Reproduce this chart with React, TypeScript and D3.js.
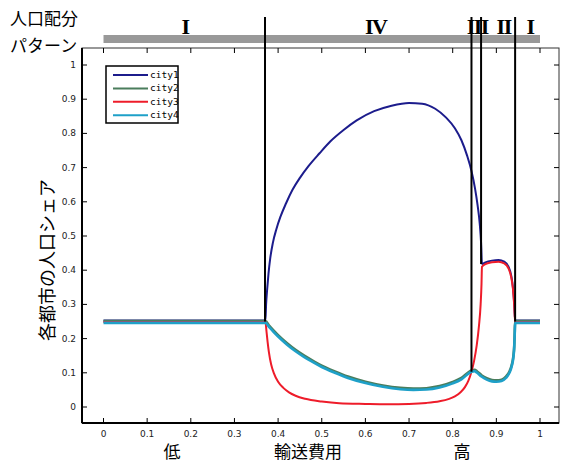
import React from 'react';
import * as d3 from 'd3';

// 各都市の人口シェア (x = 輸送費用)
const city1: [number, number][] = [
  [0, 0.253], [0.371, 0.253], [0.3725, 0.3], [0.375, 0.345], [0.378, 0.39], [0.382, 0.435],
  [0.388, 0.48], [0.396, 0.52], [0.405, 0.555], [0.418, 0.595], [0.433, 0.635],
  [0.45, 0.67], [0.47, 0.705], [0.495, 0.742], [0.52, 0.777], [0.55, 0.81],
  [0.58, 0.838], [0.62, 0.865], [0.66, 0.881], [0.7, 0.889], [0.73, 0.887],
  [0.76, 0.872], [0.785, 0.846], [0.805, 0.815], [0.82, 0.78], [0.833, 0.735],
  [0.843, 0.69], [0.851, 0.64], [0.857, 0.59], [0.862, 0.535], [0.865, 0.48],
  [0.867, 0.418], [0.875, 0.423], [0.89, 0.428], [0.905, 0.43], [0.918, 0.425],
  [0.928, 0.41], [0.934, 0.385], [0.938, 0.35], [0.941, 0.3], [0.943, 0.253], [1, 0.253],
];
const city2: [number, number][] = [
  [0, 0.251], [0.371, 0.251], [0.38, 0.237], [0.39, 0.223], [0.4, 0.21], [0.42, 0.187],
  [0.44, 0.167], [0.46, 0.15], [0.48, 0.135], [0.5, 0.121], [0.53, 0.104], [0.56, 0.089],
  [0.6, 0.074], [0.64, 0.063], [0.68, 0.056], [0.71, 0.054], [0.74, 0.055], [0.77, 0.061],
  [0.8, 0.073], [0.82, 0.085], [0.843, 0.107], [0.85, 0.109], [0.856, 0.104],
  [0.866, 0.093], [0.878, 0.084], [0.89, 0.079], [0.9, 0.078], [0.912, 0.08],
  [0.922, 0.089], [0.93, 0.104], [0.935, 0.122], [0.939, 0.149], [0.941, 0.179],
  [0.942, 0.214], [0.943, 0.251], [1, 0.251],
];
const city3: [number, number][] = [
  [0, 0.2485], [0.371, 0.2485], [0.3735, 0.22], [0.376, 0.19], [0.379, 0.16], [0.384, 0.125],
  [0.39, 0.1], [0.4, 0.074], [0.412, 0.056], [0.425, 0.043], [0.44, 0.033], [0.462, 0.024],
  [0.5, 0.016], [0.54, 0.011], [0.6, 0.009], [0.65, 0.008], [0.7, 0.009], [0.74, 0.012],
  [0.77, 0.017], [0.79, 0.023], [0.805, 0.031], [0.818, 0.043], [0.828, 0.058],
  [0.836, 0.077], [0.843, 0.103], [0.849, 0.135], [0.855, 0.18], [0.86, 0.235],
  [0.864, 0.3], [0.866, 0.36], [0.867, 0.41], [0.875, 0.418], [0.89, 0.423],
  [0.905, 0.425], [0.918, 0.42], [0.928, 0.405], [0.934, 0.38], [0.938, 0.345],
  [0.941, 0.295], [0.943, 0.2485], [1, 0.2485],
];
const city4: [number, number][] = [
  [0, 0.246], [0.371, 0.246], [0.38, 0.233], [0.39, 0.219], [0.4, 0.206], [0.42, 0.183],
  [0.44, 0.163], [0.46, 0.146], [0.48, 0.131], [0.5, 0.117], [0.53, 0.1], [0.56, 0.085],
  [0.6, 0.07], [0.64, 0.059], [0.68, 0.052], [0.71, 0.05], [0.74, 0.051], [0.77, 0.057],
  [0.8, 0.069], [0.82, 0.081], [0.843, 0.103], [0.85, 0.105], [0.856, 0.1],
  [0.866, 0.089], [0.878, 0.08], [0.89, 0.075], [0.9, 0.074], [0.912, 0.076],
  [0.922, 0.085], [0.93, 0.1], [0.935, 0.118], [0.939, 0.145], [0.941, 0.175],
  [0.942, 0.21], [0.943, 0.246], [1, 0.246],
];

const seriesNames = ['city1', 'city2', 'city3', 'city4'];
const seriesColors = ['#1c1c8c', '#4b7d5c', '#ee1c2a', '#1ea0c8'];
const seriesWidths = [2, 2.6, 2, 2.6];

// パターン境界
const boundaries = [0.37, 0.843, 0.865, 0.943];
const boundaryBottoms = [0.25, 0.103, 0.418, 0.25];
const patternLabels = ['I', 'IV', 'III', 'II', 'I'];
const patternLabelX = [0.187, 0.622, 0.853, 0.915, 0.977];

const xTicks = [0, 0.1, 0.2, 0.3, 0.4, 0.5, 0.6, 0.7, 0.8, 0.9, 1];
const yTicks = [0, 0.1, 0.2, 0.3, 0.4, 0.5, 0.6, 0.7, 0.8, 0.9, 1];

const W = 562;
const H = 464;
const frame = { left: 82, right: 559, top: 48, bottom: 423 };

const App = () => {
  const x = d3.scaleLinear().domain([0, 1]).range([103.5, 540]);
  const y = d3.scaleLinear().domain([0, 1]).range([407, 65]);
  const line = d3.line<[number, number]>()
    .x(d => x(d[0]))
    .y(d => y(d[1]))
    .curve(d3.curveMonotoneX);

  const series = [city1, city2, city3, city4];
  const tickFont = { fontFamily: 'DejaVu Sans', fontSize: 9, fill: '#222' };
  const jp = '"Noto Sans CJK JP", sans-serif';
  const fmt = (t: number) => (t === 0 || t === 1 ? String(t) : t.toFixed(1));

  return (
    <svg width={W} height={H} style={{ position: 'absolute', left: 0, top: 0, background: '#fff' }}>
      {/* 人口配分パターン */}
      <text x={10} y={25} fontFamily={jp} fontSize={17} fill="#000">人口配分</text>
      <text x={10} y={52} fontFamily={jp} fontSize={17} fill="#000">パターン</text>
      <rect x={x(0)} y={35} width={x(1) - x(0)} height={8} fill="#999" />
      {patternLabels.map((l, i) => (
        <text key={i} x={x(patternLabelX[i]) + 0.75 * (l.length - 1)} y={34} textAnchor="middle"
          fontFamily="Liberation Serif" fontWeight="bold" fontSize={22} letterSpacing={-1.5} fill="#000">{l}</text>
      ))}

      {/* frame */}
      <rect x={frame.left} y={frame.top} width={frame.right - frame.left}
        height={frame.bottom - frame.top} fill="none" stroke="#333" strokeWidth={1} />
      <line x1={frame.left} x2={frame.left} y1={frame.top} y2={frame.bottom} stroke="#000" strokeWidth={2} />
      <line x1={frame.left} x2={frame.right} y1={frame.bottom} y2={frame.bottom} stroke="#000" strokeWidth={2} />

      {/* ticks */}
      {xTicks.map(t => (
        <g key={'x' + t}>
          <line x1={x(t)} x2={x(t)} y1={frame.bottom} y2={frame.bottom - 5} stroke="#000" />
          <line x1={x(t)} x2={x(t)} y1={frame.top} y2={frame.top + 5} stroke="#000" />
          <text x={x(t)} y={437} textAnchor="middle" {...tickFont}>{fmt(t)}</text>
        </g>
      ))}
      {yTicks.map(t => (
        <g key={'y' + t}>
          <line x1={frame.left} x2={frame.left + 5} y1={y(t)} y2={y(t)} stroke="#000" />
          <line x1={frame.right} x2={frame.right - 5} y1={y(t)} y2={y(t)} stroke="#000" />
          <text x={76} y={y(t) + 3} textAnchor="end" {...tickFont}>{fmt(t)}</text>
        </g>
      ))}

      {/* curves */}
      {series.map((s, i) => (
        <path key={i} d={line(s) || ''} fill="none" stroke={seriesColors[i]}
          strokeWidth={seriesWidths[i]} strokeLinejoin="round" />
      ))}

      {/* boundaries */}
      {boundaries.map((b, i) => (
        <line key={i} x1={x(b)} x2={x(b)} y1={17} y2={y(boundaryBottoms[i])} stroke="#000" strokeWidth={2} />
      ))}

      {/* legend */}
      <rect x={106} y={66} width={72} height={57} fill="#fff" stroke="#000" strokeWidth={1.5} />
      {seriesNames.map((n, i) => (
        <g key={n}>
          <line x1={113} x2={148} y1={75 + i * 13.4} y2={75 + i * 13.4} stroke={seriesColors[i]} strokeWidth={2} />
          <text x={150} y={78 + i * 13.4} fontFamily="DejaVu Sans Mono" fontSize={9.5} fill="#000">{n}</text>
        </g>
      ))}

      {/* axis labels */}
      <text transform="translate(54,260) rotate(-90)" textAnchor="middle" fontFamily={jp} fontSize={18} fill="#000">各都市の人口シェア</text>
      <text x={172} y={458} textAnchor="middle" fontFamily={jp} fontSize={17} fill="#000">低</text>
      <text x={308} y={458} textAnchor="middle" fontFamily={jp} fontSize={17} fill="#000">輸送費用</text>
      <text x={462} y={458} textAnchor="middle" fontFamily={jp} fontSize={17} fill="#000">高</text>
    </svg>
  );
};

export default App;
